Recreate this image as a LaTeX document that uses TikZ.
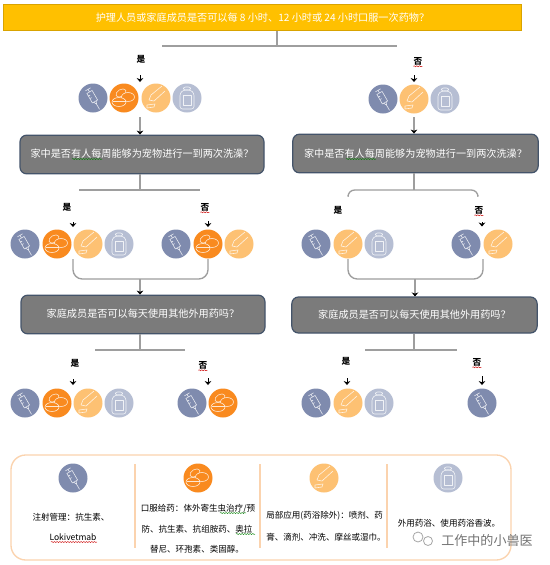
\documentclass[tikz,border=0pt]{standalone}
\usepackage{fontspec}
\setmainfont{Noto Sans CJK SC}
\usetikzlibrary{arrows.meta,decorations.pathmorphing}
\definecolor{syr}{HTML}{7F8BAE}
\definecolor{pil}{HTML}{F98A1F}
\definecolor{topc}{HTML}{FDC173}
\definecolor{botc}{HTML}{B6BED3}
\definecolor{gbox}{HTML}{7B7B7B}
\definecolor{gedge}{HTML}{44546A}
\definecolor{yel}{HTML}{FFC000}
\definecolor{yedge}{HTML}{D9A300}
\definecolor{pan}{HTML}{FBD3AE}
\tikzset{
 x=0.75pt,y=-0.75pt,
 qbox/.style={draw=gedge,line width=0.9pt,fill=gbox,rounded corners=5pt,text=white,font=\fontsize{7.6}{9}\selectfont,inner sep=0pt},
 conn/.style={draw=black!38,line width=1pt},
 connarr/.style={conn,-{Stealth[length=3pt,width=5pt,black]}},
 arr/.style={-{Stealth[length=3pt,width=5pt]},black,line width=0.5pt},
 lab/.style={font=\fontsize{6.5}{8}\bfseries\selectfont,inner sep=0pt},
 captxt/.style={font=\fontsize{6.4}{14.5}\selectfont,align=center,inner sep=0pt},
 ico/.style={draw=white!100,draw opacity=0.8,line width=0.45pt,line join=round},
 wm/.style={font=\fontsize{9.8}{11}\selectfont,text=black!55,inner sep=0pt},
 redsq/.style={draw=red!80!black,line width=0.35pt,decorate,decoration={snake,amplitude=0.35pt,segment length=2pt}},
 grnsq/.style={draw=green!50!black,line width=0.35pt,decorate,decoration={snake,amplitude=0.35pt,segment length=2pt}}
}
\newcommand{\syrc}[2]{\fill[syr] (#1,#2) circle (14.5);
 \begin{scope}[shift={(#1,#2)},rotate=30,ico]
 \draw (-3,-10) -- (3,-10) (0,-10) -- (0,-7) (-3,-7) rectangle (3,4) (-3,-4)--(-1,-4) (-3,-1)--(-1,-1) (-1.5,4) -- (0,7) -- (1.5,4) (0,7)--(0,13);
 \end{scope}}
\newcommand{\pilc}[2]{\fill[pil] (#1,#2) circle (14.5);
 \begin{scope}[shift={(#1,#2)},ico]
 \draw[rotate around={30:(-3,-5)}] (-3,-5) ellipse (5.5 and 3.5);
 \draw[fill=pil] (4,-1) ellipse (6.5 and 4.5);
 \draw[fill=pil] (-5,4) ellipse (7 and 4.5);
 \draw (-11.5,3) -- (1.5,3);
 \end{scope}}
\newcommand{\topcirc}[2]{\fill[topc] (#1,#2) circle (14.5);
 \begin{scope}[shift={(#1,#2)},ico]
 \draw (-7,2) -- (-5,-3) -- (6,-12) (-7,2) -- (-2,3) -- (9,-7);
 \draw (-9,7) -- (-1,6) -- (-2,9) -- (-9,10) -- cycle;
 \end{scope}}
\newcommand{\botcirc}[2]{\fill[botc] (#1,#2) circle (14.5);
 \begin{scope}[shift={(#1,#2)},ico]
 \draw[rounded corners=1.5pt] (-3.5,-11) rectangle (3.5,-8);
 \draw[rounded corners=2pt] (-7,11) -- (-7,-5) -- (-3.5,-8) -- (3.5,-8) -- (7,-5) -- (7,11) -- cycle;
 \draw (-4,-3) rectangle (4,7);
 \end{scope}}
\begin{document}
\begin{tikzpicture}
\useasboundingbox (0,0) rectangle (550,565);
\fill[white] (0,0) rectangle (550,565);
% top question
\node[draw=yedge,line width=0.7pt,fill=yel,text=white,minimum width=389pt,minimum height=20pt,inner sep=0pt,font=\fontsize{7.6}{9}\selectfont] (q0) at (262.5,17.5) {护理人员或家庭成员是否可以每 8 小时、12 小时或 24 小时口服一次药物？};
\node[qbox,minimum width=183pt,minimum height=29pt] (q1) at (142,154.5) {\raisebox{1.8pt}{家中是否有人每周能够为宠物进行一到两次洗澡？}};
\node[qbox,minimum width=184pt,minimum height=29pt] (q2) at (415.5,153.5) {\raisebox{0.6pt}{家中是否有人每周能够为宠物进行一到两次洗澡？}};
\node[qbox,minimum width=183pt,minimum height=29pt] (q3) at (143,314.5) {\raisebox{1.8pt}{家庭成员是否可以每天使用其他外用药吗？}};
\node[qbox,minimum width=184pt,minimum height=27pt] (q4) at (414.5,315) {\raisebox{0.6pt}{家庭成员是否可以每天使用其他外用药吗？}};
% connectors from questions
\coordinate (j0) at (277,46); \coordinate (j0l) at (162,46); \coordinate (j0r) at (397,46);
\draw[conn] (q0.south -| j0) -- (j0) (j0l) -- (j0r);
\coordinate (j1) at (140,190); \coordinate (j1l) at (79,190); \coordinate (j1r) at (200,190);
\draw[conn] (q1.south -| j1) -- (j1) (j1l) -- (j1r);
\coordinate (j2) at (414,190); \coordinate (j2l) at (348,195); \coordinate (j2r) at (478,195);
\draw[conn] (q2.south -| j2) -- (j2);
\draw[conn,rounded corners=5pt] (j2l) -- (348,190) -- (478,190) -- (j2r);
\coordinate (j3) at (140,350); \coordinate (j3l) at (95,350); \coordinate (j3r) at (185,350);
\draw[conn] (q3.south -| j3) -- (j3) (j3l) -- (j3r);
\coordinate (j4) at (414,350); \coordinate (j4l) at (365,350); \coordinate (j4r) at (457,350);
\draw[conn] (q4.south -| j4) -- (j4) (j4l) -- (j4r);
% labels
\node[lab] (a1) at (141,59) {是};
\node[lab] (a2) at (418,61) {否};
\node[lab] (b1) at (67,207) {是};
\node[lab] (b2) at (205,207) {否};
\node[lab] (b3) at (338,210) {是};
\node[lab] (b4) at (479,210) {否};
\node[lab] (c1) at (75,363) {是};
\node[lab] (c2) at (203,365) {否};
\node[lab] (c3) at (346,361) {是};
\node[lab] (c4) at (477,362) {否};
% spell-check squiggles
\foreach \n in {a2,b2,b4,c2,c4} \draw[redsq] ([xshift=-3.5pt,yshift=-0.8pt]\n.south) -- ([xshift=3.5pt,yshift=-0.8pt]\n.south);
\draw[grnsq] (72,159) -- (102,159);
\draw[grnsq] (346,159) -- (376,159);
\draw[grnsq] (220,513) -- (246,513);
\draw[grnsq] (236,534) -- (255,534);
\draw[redsq] (51,542) -- (97,542);
% arrows
\foreach \xa/\ya/\yb in {140/75/82,414/75/82,73/222/227,208/221/227,482/222/226.5,73/379/385,208/378/385,347/378/385,482/376/385}
  \draw[arr] (\xa,\ya) -- (\xa,\yb);
% icon rows
\syrc{93}{98}\pilc{124}{98}\topcirc{156}{98}\botcirc{187}{98}
\syrc{383}{99}\topcirc{414}{99}\botcirc{445}{99}
\syrc{25}{244}\pilc{57}{244}\topcirc{88}{244}\botcirc{119}{244}
\syrc{176}{244}\pilc{208}{244}\topcirc{239}{244}
\syrc{316}{244}\topcirc{348}{244}\botcirc{379}{244}
\syrc{466}{244}\topcirc{498}{244}
\syrc{25}{403}\pilc{57}{403}\topcirc{88}{403}\botcirc{119}{403}
\syrc{192}{403}\pilc{223}{403}
\syrc{316}{403}\topcirc{348}{403}\botcirc{379}{403}
\syrc{482}{403}
% icons to question
\coordinate (i1) at (140,117); \coordinate (i2) at (414,117);
\draw[connarr] (i1) -- (q1.north -| i1);
\draw[connarr] (i2) -- (q2.north -| i2);
% brackets
\coordinate (k1a) at (73,259); \coordinate (k1b) at (208,259); \coordinate (k1m) at (140,279);
\draw[conn,rounded corners=7pt] (k1a) -- (73,279) -- (208,279) -- (k1b);
\draw[connarr] (k1m) -- (q3.north -| k1m);
\coordinate (k2a) at (348,259); \coordinate (k2b) at (483,259); \coordinate (k2m) at (415,279);
\draw[conn,rounded corners=7pt] (k2a) -- (348,279) -- (483,279) -- (k2b);
\draw[connarr] (k2m) -- (q4.north -| k2m);
% legend panel
\draw[draw=pan,line width=1pt,rounded corners=11pt] (11,455) rectangle (511,560);
\draw[draw=pan,line width=1pt] (135,464) -- (135,548) (260,464) -- (260,548) (387,464) -- (387,548);
\syrc{73}{478}\pilc{198}{478}\topcirc{324}{478}\botcirc{448}{478}
\node[captxt] (t1) at (71,517) {注射管理：抗生素、};
\node[captxt] (t1b) at (73,537) {Lokivetmab};
\node[captxt] (t2) at (198,509) {口服给药：体外寄生虫治疗/预};
\node[captxt] (t2b) at (197,529) {防、抗生素、抗组胺药、奥拉};
\node[captxt] (t2c) at (197,549) {替尼、环孢素、类固醇。};
\node[captxt,anchor=west] (t3) at (266,516) {局部应用(药浴除外)：喷剂、药};
\node[captxt,anchor=west] (t3b) at (266,537) {膏、滴剂、冲洗、摩丝或湿巾。};
\node[captxt] (t4) at (449,523) {外用药浴、使用药浴香波。};
% watermark
\node[wm] (w) at (487,541) {工作中的小兽医};
\draw[black!35,line width=0.6pt] (418,537) circle (5) (428,541) circle (4.5);
\end{tikzpicture}
\end{document}
